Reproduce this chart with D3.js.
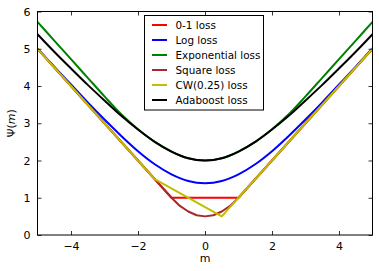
<!DOCTYPE html>
<html>
<head>
<meta charset="utf-8">
<script src="https://cdn.jsdelivr.net/npm/d3@7"></script>
<style>
  body { margin: 0; background: #fff; }
  svg { display: block; font-family: "DejaVu Sans", sans-serif; }
</style>
</head>
<body>
<svg id="chart" width="379" height="271"></svg>
<script>
// margin values
const mGrid = [-5, -4.5, -4, -3.5, -3, -2.5, -2, -1.5, -1, -0.5, 0, 0.5, 1, 1.5, 2, 2.5, 3, 3.5, 4, 4.5, 5];
const logLoss = [5.01, 4.52, 4.04, 3.56, 3.10, 2.66, 2.25, 1.90, 1.63, 1.45, 1.39, 1.45, 1.63, 1.90, 2.25, 2.66, 3.10, 3.56, 4.04, 4.52, 5.01];
const expLoss = [5.72, 5.22, 4.72, 4.22, 3.72, 3.24, 2.84, 2.50, 2.24, 2.06, 2.00, 2.06, 2.24, 2.50, 2.84, 3.24, 3.72, 4.22, 4.72, 5.22, 5.72];
const adaLoss = [5.39, 4.92, 4.47, 4.03, 3.61, 3.20, 2.83, 2.50, 2.24, 2.06, 2.00, 2.06, 2.24, 2.50, 2.83, 3.20, 3.61, 4.03, 4.47, 4.92, 5.39];

const zeroOneM = [-5, -1, 1, 5];
const zeroOneLoss = [5, 1, 1, 5];

const squareM = [-5, -1, -0.75, -0.5, -0.25, 0, 0.25, 0.5, 0.75, 1, 5];
const squareLoss = [5, 1, 0.78, 0.63, 0.53, 0.5, 0.53, 0.63, 0.78, 1, 5];

const cwM = [-5, -1.5, 0.5, 5];
const cwLoss = [5, 1.5, 0.5, 5];

const xTicks = [-4, -2, 0, 2, 4];
const yTicks = [0, 1, 2, 3, 4, 5, 6];

const series = [
  { label: '0-1 loss', m: zeroOneM, v: zeroOneLoss, color: '#ff0000', smooth: false },
  { label: 'Log loss', m: mGrid, v: logLoss, color: '#0000ff', smooth: true },
  { label: 'Exponential loss', m: mGrid, v: expLoss, color: '#008000', smooth: true },
  { label: 'Square loss', m: squareM, v: squareLoss, color: '#a52a2a', smooth: false },
  { label: 'CW(0.25) loss', m: cwM, v: cwLoss, color: '#bfbf00', smooth: false },
  { label: 'Adaboost loss', m: mGrid, v: adaLoss, color: '#000000', smooth: true },
];

const plotLeft = 37.5, plotRight = 372.5, plotTop = 11.5, plotBottom = 235;
const x = d3.scaleLinear().domain([-5, 5]).range([plotLeft, plotRight]);
const y = d3.scaleLinear().domain([0, 6]).range([plotBottom, plotTop]);

const svg = d3.select('#chart');

// clip to plot area
svg.append('clipPath').attr('id', 'clip')
  .append('rect').attr('x', plotLeft).attr('y', plotTop)
  .attr('width', plotRight - plotLeft).attr('height', plotBottom - plotTop);

const plot = svg.append('g').attr('clip-path', 'url(#clip)');

series.forEach((s) => {
  const line = d3.line()
    .x((d, i) => x(s.m[i]))
    .y((d) => y(d))
    .curve(s.smooth ? d3.curveMonotoneX : d3.curveLinear);
  plot.append('path')
    .attr('d', line(s.v))
    .attr('fill', 'none')
    .attr('stroke', s.color)
    .attr('stroke-width', 2)
    .attr('stroke-linejoin', 'round');
});

// axes, ticks pointing inward on all four sides
const fmt = (d) => (d < 0 ? '\u2212' + Math.abs(d) : String(d));
const axBottom = d3.axisBottom(x).tickValues(xTicks).tickSize(-4).tickPadding(7).tickFormat(fmt);
const axTop = d3.axisTop(x).tickValues(xTicks).tickSize(-4).tickFormat('');
const axLeft = d3.axisLeft(y).tickValues(yTicks).tickSize(-4).tickPadding(7).tickFormat(fmt);
const axRight = d3.axisRight(y).tickValues(yTicks).tickSize(-4).tickFormat('');

function styleAxis(g) {
  g.select('.domain').remove();
  g.selectAll('.tick line').attr('stroke', '#000').attr('stroke-width', 0.8);
  g.selectAll('.tick text').attr('fill', '#000').attr('font-size', 11)
    .attr('font-family', '"DejaVu Sans", sans-serif');
}

svg.append('g').attr('transform', `translate(0,${plotBottom})`).call(axBottom).call(styleAxis);
svg.append('g').attr('transform', `translate(0,${plotTop})`).call(axTop).call(styleAxis);
svg.append('g').attr('transform', `translate(${plotLeft},0)`).call(axLeft).call(styleAxis);
svg.append('g').attr('transform', `translate(${plotRight},0)`).call(axRight).call(styleAxis);

// frame
svg.append('rect')
  .attr('x', plotLeft).attr('y', plotTop)
  .attr('width', plotRight - plotLeft).attr('height', plotBottom - plotTop)
  .attr('fill', 'none').attr('stroke', '#000').attr('stroke-width', 1);

// axis labels
svg.append('text')
  .attr('x', (plotLeft + plotRight) / 2).attr('y', 262)
  .attr('text-anchor', 'middle').attr('font-size', 11)
  .text('m');

const yl = svg.append('text')
  .attr('transform', `translate(15,${(plotTop + plotBottom) / 2}) rotate(-90)`)
  .attr('text-anchor', 'middle').attr('font-size', 11);
yl.append('tspan').text('\u03A8(');
yl.append('tspan').attr('font-style', 'italic').text('m');
yl.append('tspan').text(')');

// legend
const legend = svg.append('g');
legend.append('rect')
  .attr('x', 144.5).attr('y', 15.5)
  .attr('width', 119).attr('height', 94.5)
  .attr('fill', '#fff').attr('stroke', '#000').attr('stroke-width', 1);

series.forEach((s, i) => {
  const cy = 25 + i * 15;
  legend.append('line')
    .attr('x1', 152).attr('x2', 167)
    .attr('y1', cy).attr('y2', cy)
    .attr('stroke', s.color).attr('stroke-width', 2);
  legend.append('text')
    .attr('x', 175.5).attr('y', cy + 3.7)
    .attr('font-size', 10.4)
    .text(s.label);
});
</script>
</body>
</html>
